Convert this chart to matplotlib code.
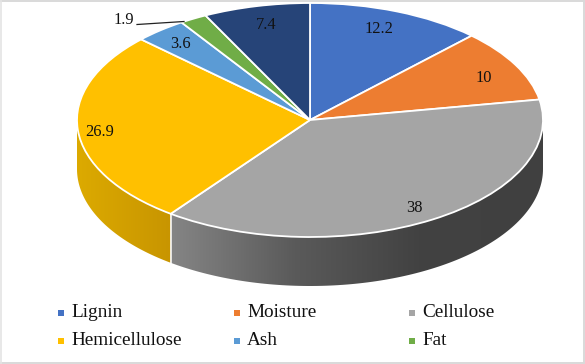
import numpy as np
import matplotlib
matplotlib.use("Agg")
import matplotlib.pyplot as plt
from matplotlib.colors import LinearSegmentedColormap
from matplotlib.patches import Polygon, Rectangle
from matplotlib.lines import Line2D

categories = ["Lignin", "Moisture", "Cellulose", "Hemicellulose", "Ash", "Fat", "Other"]
values = [12.2, 10, 38, 26.9, 3.6, 1.9, 7.4]
value_labels = ["12.2", "10", "38", "26.9", "3.6", "1.9", "7.4"]
colors = ["#4472C4", "#ED7D31", "#A5A5A5", "#FFC000", "#5B9BD5", "#70AD47", "#264478"]

W, H = 585, 364
CX, CY, RX, RY, DEPTH = 310, 120, 233, 117, 49


def dx(px):
    return (px - CX) / RX


def dy(py):
    return (CY - py) / RY


plt.rcParams["font.family"] = ["Liberation Serif", "DejaVu Serif"]
fig = plt.figure(figsize=(W / 100, H / 100), dpi=100)
ax = fig.add_axes([0, 0, 1, 1])

ax.pie(values, colors=colors, startangle=90, counterclock=False, radius=1,
       wedgeprops=dict(edgecolor="white", linewidth=1.3, zorder=3))
ax.set_aspect("auto")


def wall(start, end, stops, x0, x1):
    t = np.radians(np.linspace(start, end, 120))
    x = np.sin(t)
    y = np.cos(t)
    d = DEPTH / RY
    pts = np.column_stack([np.r_[x, x[::-1]], np.r_[y, y[::-1] - d]])
    poly = Polygon(pts, closed=True, transform=ax.transData, facecolor="none", edgecolor="none")
    ax.add_patch(poly)
    cmap = LinearSegmentedColormap.from_list("w", stops)
    img = ax.imshow(np.linspace(0, 1, 256).reshape(1, -1), cmap=cmap, aspect="auto",
                    extent=[x0, x1, -1.6, 1.1], zorder=1, interpolation="bilinear")
    img.set_clip_path(poly)
    return x


edges = np.cumsum([0] + values) / sum(values) * 360
w_color_stops = {
    2: (["#858585", "#5a5a5a", "#424242", "#404040"], dx(171), dx(543)),
    3: (["#dcaa00", "#c89500"], dx(77), dx(171)),
}
for i, (stops, x0, x1) in w_color_stops.items():
    s = max(edges[i], 90)
    e = min(edges[i + 1], 270)
    wall(s, e, stops, x0, x1)

# white seam between the two visible side walls
seam = np.radians(edges[3])
ax.plot([np.sin(seam)] * 2, [np.cos(seam), np.cos(seam) - DEPTH / RY], color="white", lw=1.1, zorder=2)

ax.set_xlim(dx(0), dx(W))
ax.set_ylim(dy(H), dy(0))
ax.set_xticks([])
ax.set_yticks([])
ax.axis("off")

# data labels
label_px = [(379, 29), (484, 78), (414, 208), (100, 132), (180, 44), (124, 20), (266, 25)]
for lab, (px, py) in zip(value_labels, label_px):
    ax.text(dx(px), dy(py), lab, ha="center", va="center", fontsize=11.8, color="#111111", zorder=5)

# leader line for the Fat slice
ax.plot([dx(137), dx(184)], [dy(24.5), dy(21.5)], color="#222222", lw=0.9, zorder=4)

# legend
legend_px = [(61, 313), (237, 313), (412, 313), (61, 341), (237, 341), (412, 341)]
for name, col, (px, py) in zip(categories[:6], colors[:6], legend_px):
    fig.patches.append(Rectangle((px - 3, H - py - 3), 6, 6, transform=None, facecolor=col, edgecolor="none"))
    ax.text(dx(px + 10), dy(py - 0.5), name, ha="left", va="center", fontsize=13.9, color="#111111")

# outer frame
frame = "#d9d9d9"
fig.add_artist(Line2D([0, W], [H - 1, H - 1], transform=None, color=frame, lw=1.4))
fig.add_artist(Line2D([W - 1, W - 1], [0, H], transform=None, color=frame, lw=1.4))
fig.add_artist(Line2D([0, W], [1, 1], transform=None, color=frame, lw=1.4))
fig.add_artist(Line2D([1, 1], [0, H], transform=None, color="#e4e4e4", lw=1.2))

fig.savefig("out.png", dpi=100)
